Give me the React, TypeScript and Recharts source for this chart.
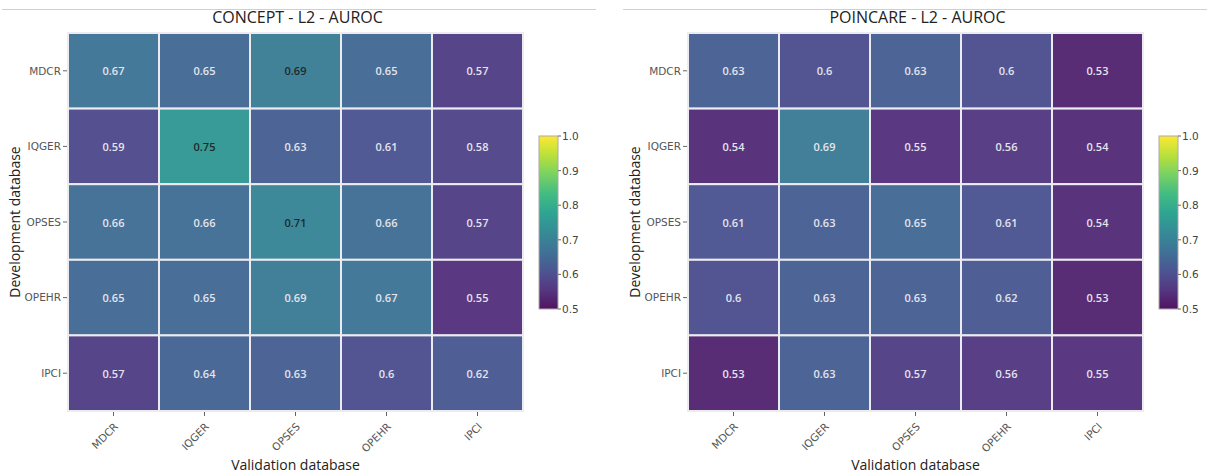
import React from "react";
import { ScatterChart, Scatter, XAxis, YAxis } from "recharts";

const CATEGORIES = ["MDCR", "IQGER", "OPSES", "OPEHR", "IPCI"];
const COLOR_TICKS = [0.5, 0.6, 0.7, 0.8, 0.9, 1.0];

// rows = development database, cols = validation database
const CONCEPT_AUROC = [
  [0.67, 0.65, 0.692, 0.65, 0.57],
  [0.59, 0.75, 0.63, 0.61, 0.58],
  [0.66, 0.66, 0.71, 0.66, 0.57],
  [0.65, 0.65, 0.688, 0.67, 0.55],
  [0.57, 0.64, 0.63, 0.6, 0.62],
];

const POINCARE_AUROC = [
  [0.63, 0.6, 0.63, 0.6, 0.53],
  [0.54, 0.688, 0.55, 0.56, 0.54],
  [0.61, 0.63, 0.65, 0.61, 0.54],
  [0.6, 0.63, 0.63, 0.62, 0.53],
  [0.53, 0.63, 0.57, 0.56, 0.55],
];

const ZMIN = 0.5;
const ZMAX = 1.0;

// plotly viridis
const VIRIDIS: [number, string][] = [
  [0, "#440154"],
  [0.111, "#482878"],
  [0.222, "#3e4989"],
  [0.333, "#31688e"],
  [0.444, "#26828e"],
  [0.556, "#1f9e89"],
  [0.667, "#35b779"],
  [0.778, "#6ece58"],
  [0.889, "#b5de2b"],
  [1, "#fde725"],
];

function hexToRgb(h: string) {
  const n = parseInt(h.slice(1), 16);
  return [(n >> 16) & 255, (n >> 8) & 255, n & 255];
}

function viridis(v: number) {
  const t = Math.max(0, Math.min(1, (v - ZMIN) / (ZMAX - ZMIN)));
  for (let i = 1; i < VIRIDIS.length; i++) {
    if (t <= VIRIDIS[i][0]) {
      const [t0, c0] = VIRIDIS[i - 1];
      const [t1, c1] = VIRIDIS[i];
      const f = (t - t0) / (t1 - t0);
      const a = hexToRgb(c0);
      const b = hexToRgb(c1);
      const rgb = a.map((x, k) => Math.round(x + (b[k] - x) * f));
      return `rgb(${rgb.join(",")})`;
    }
  }
  return VIRIDIS[VIRIDIS.length - 1][1];
}

const FONT = '"Open Sans", "DejaVu Sans", sans-serif';
const TICK_FONT = '"DejaVu Sans", Verdana, sans-serif';
const CHART_W = 530;
const CHART_H = 476;
const Y_AXIS_W = 68;
const MARGIN = { top: 33, right: 7, bottom: 0, left: 0 };
const X_AXIS_H = 65;
const PLOT_W = CHART_W - Y_AXIS_W - MARGIN.left - MARGIN.right;
const PLOT_H = CHART_H - MARGIN.top - MARGIN.bottom - X_AXIS_H;

function HeatCell(props: any) {
  const { cx, cy, payload } = props;
  const w = PLOT_W / CATEGORIES.length;
  const h = PLOT_H / CATEGORIES.length;
  const v: number = payload.v;
  const label = String(Math.round(v * 100) / 100);
  return (
    <g>
      <rect
        x={cx - w / 2}
        y={cy - h / 2}
        width={w}
        height={h}
        fill={viridis(v)}
        fillOpacity={0.9}
        stroke="#ecebf1"
        strokeWidth={2}
      />
      <text
        x={cx}
        y={cy}
        textAnchor="middle"
        dominantBaseline="central"
        fontSize={11}
        fontWeight={600}
        fontFamily={FONT}
        fill={v > 0.69 ? "#1e2a2a" : "#e4e4ee"}
      >
        {label}
      </text>
    </g>
  );
}

function Heatmap({ title, values, left }: { title: string; values: number[][]; left: number }) {
  const points = values.flatMap((row, r) => row.map((v, c) => ({ x: c, y: r, v })));
  const plotLeft = left + MARGIN.left + Y_AXIS_W;
  const plotCenter = plotLeft + PLOT_W / 2;
  const idx = CATEGORIES.map((_, i) => i);
  const fmt = (i: number) => CATEGORIES[i] ?? "";

  return (
    <>
      <div
        style={{
          position: "absolute",
          left: plotCenter - 150 + 2,
          width: 300,
          top: 5,
          textAlign: "center",
          fontSize: 16,
          color: "#222",
          lineHeight: "24px",
        }}
      >
        {title}
      </div>
      <div
        style={{
          position: "absolute",
          left: plotCenter - 150,
          width: 300,
          top: 455,
          textAlign: "center",
          fontSize: 14,
          color: "#222",
          lineHeight: "20px",
        }}
      >
        Validation database
      </div>
      <div
        style={{
          position: "absolute",
          left: left + 15 - 100,
          top: MARGIN.top + PLOT_H / 2 - 10,
          width: 200,
          textAlign: "center",
          fontSize: 14,
          color: "#222",
          lineHeight: "20px",
          transform: "rotate(-90deg)",
        }}
      >
        Development database
      </div>
      <div style={{ position: "absolute", left, top: 0 }}>
        <ScatterChart width={CHART_W} height={CHART_H} margin={MARGIN}>
          <XAxis
            type="number"
            dataKey="x"
            domain={[-0.5, 4.5]}
            ticks={idx}
            interval={0}
            tickFormatter={fmt}
            height={X_AXIS_H}
            axisLine={false}
            tickLine={{ stroke: "#666" }}
            tickSize={5}
            tickMargin={6}
            angle={-45}
            textAnchor="end"
            tick={{ fill: "#555", fontSize: 10.5, fontFamily: TICK_FONT }}
          />
          <YAxis
            type="number"
            dataKey="y"
            domain={[-0.5, 4.5]}
            ticks={idx}
            interval={0}
            reversed
            tickFormatter={fmt}
            width={Y_AXIS_W}
            axisLine={false}
            tickLine={{ stroke: "#666" }}
            tickSize={5}
            tickMargin={2}
            tick={{ fill: "#555", fontSize: 10.5, fontFamily: TICK_FONT }}
          />
          <Scatter data={points} shape={HeatCell} isAnimationActive={false} />
        </ScatterChart>
      </div>
    </>
  );
}

function ColorBar({ left, id }: { left: number; id: string }) {
  const barX = 9;
  const barY = 136;
  const barW = 19;
  const barH = 173;
  return (
    <svg
      style={{ position: "absolute", left, top: 0 }}
      width={60}
      height={CHART_H}
    >
      <defs>
        <linearGradient id={id} x1="0" y1="1" x2="0" y2="0">
          {VIRIDIS.map(([t, c]) => (
            <stop key={t} offset={t} stopColor={c} stopOpacity={0.93} />
          ))}
        </linearGradient>
      </defs>
      <rect x={barX} y={barY} width={barW} height={barH} fill={`url(#${id})`} stroke="#aaa" strokeWidth={1} />
      {COLOR_TICKS.map((t) => {
        const y = barY + barH - ((t - ZMIN) / (ZMAX - ZMIN)) * barH;
        return (
          <g key={t}>
            <line x1={barX + barW} x2={barX + barW + 3} y1={y} y2={y} stroke="#666" />
            <text
              x={barX + barW + 4}
              y={y}
              dominantBaseline="central"
              fontSize={10.5}
              fontFamily={TICK_FONT}
              fill="#444"
            >
              {t.toFixed(1)}
            </text>
          </g>
        );
      })}
    </svg>
  );
}

export default function App() {
  return (
    <div
      style={{
        position: "absolute",
        left: 0,
        top: 0,
        width: 1207,
        height: 476,
        background: "#fff",
        fontFamily: FONT,
        overflow: "hidden",
      }}
    >
      <div style={{ position: "absolute", left: 2, width: 594, top: 9, height: 1, background: "#cfcfcf" }} />
      <div style={{ position: "absolute", left: 623, width: 584, top: 9, height: 1, background: "#cfcfcf" }} />
      <Heatmap title="CONCEPT - L2 - AUROC" values={CONCEPT_AUROC} left={0} />
      <ColorBar left={530} id="cb-left" />
      <Heatmap title="POINCARE - L2 - AUROC" values={POINCARE_AUROC} left={620} />
      <ColorBar left={1150} id="cb-right" />
    </div>
  );
}
